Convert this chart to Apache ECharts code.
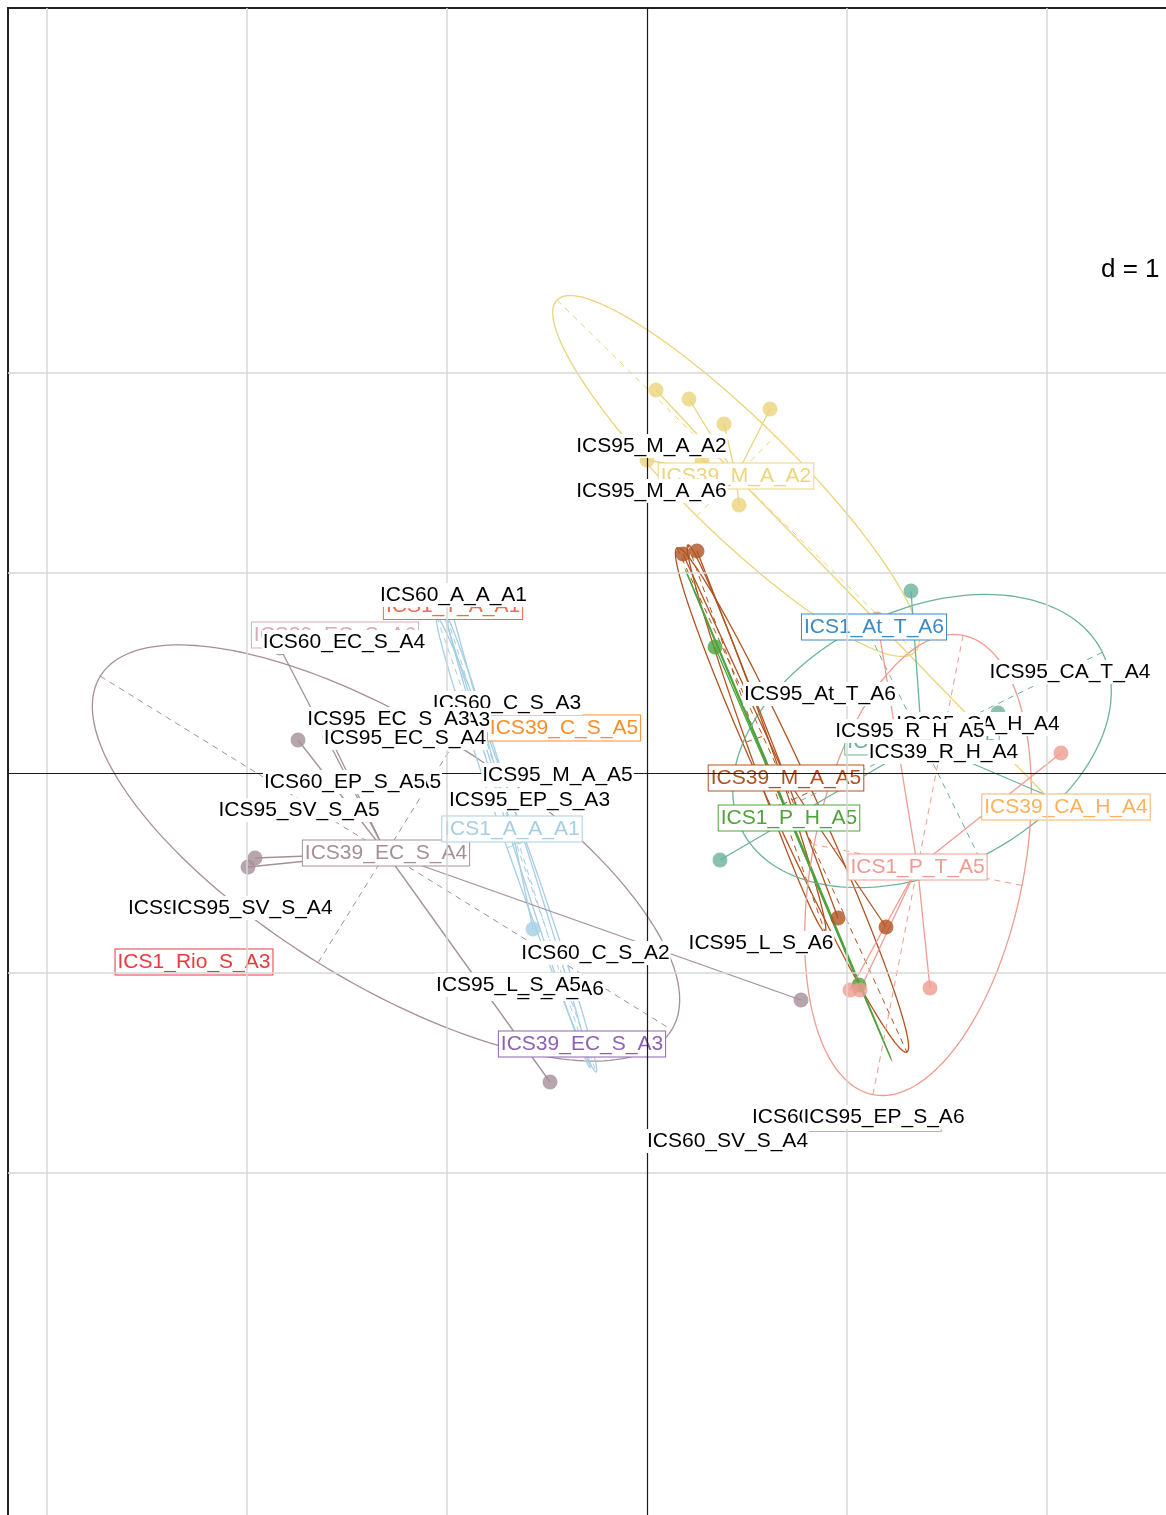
<!DOCTYPE html>
<html>
<head>
<meta charset="utf-8">
<script src="https://cdn.jsdelivr.net/npm/echarts@6/dist/echarts.min.js"></script>
<style>
  html, body { margin: 0; padding: 0; background: #ffffff; }
  #main { width: 1166px; height: 1515px; }
</style>
</head>
<body>
<div id="main"></div>
<script>
// ---------- reference grid (units of d = 1) ----------
const gridX = [-3, -2, -1, 1, 2];
const gridY = [-2, -1, 1, 2];

// ---------- classes: name and centroid (label sits on the centroid) ----------
const classNames = [
  'ICS39_M_A_A2', 'ICS39_M_A_A5', 'ICS1_P_H_A5', 'ICS39_R_H_A5', 'ICS1_P_T_A5',
  'ICS39_EC_S_A4', 'ICS1_A_A_A1', 'ICS1_At_T_A6', 'ICS39_C_S_A5', 'ICS39_CA_H_A4',
  'ICS1_Rio_S_A3', 'ICS39_EC_S_A3', 'ICS1_T_A_A1', 'ICS39_EC_S_A6', 'ICS1_EP_S_A6'
];
const centroidX = [0.445, 0.695, 0.71, 1.375, 1.3525, -1.305, -0.675, 1.135, -0.415, 2.095, -2.265, -0.325, -0.97, -1.56, 1.085];
const centroidY = [1.485, -0.025, -0.225, 0.155, -0.47, -0.4, -0.28, 0.73, 0.225, -0.17, -0.945, -1.355, 0.8325, 0.69, -1.7275];

// ---------- member scores of each class ----------
const membersM_A_A2 = [[0.045, 1.915], [0.21, 1.87], [0.385, 1.745], [0.615, 1.82], [0.46, 1.34], [0.0, 1.565], [0.275, 1.565], [2.025, -0.145]];
const membersM_A_A5 = [[0.18, 1.095], [0.25, 1.11], [0.955, -0.725], [1.195, -0.77]];
const membersP_H_A5 = [[0.34, 0.63], [1.06, -1.06]];
const membersR_H_A5 = [[1.32, 0.91], [0.365, -0.435], [1.755, 0.3], [2.065, -0.14]];
const membersP_T_A5 = [[1.065, -1.085], [1.015, -1.085], [1.415, -1.075], [2.07, 0.1], [1.15, 0.77]];
const membersEC_S_A4 = [[-1.745, 0.165], [-1.96, -0.425], [-1.995, -0.47], [-0.485, -1.545], [0.77, -1.135], [-1.835, 0.625], [-1.585, 0.18]];
const membersA_A_A1 = [[-0.57, -0.78], [-1.02, 0.805], [-0.975, 0.805]];

const memberSets = [
  ['ICS39_M_A_A2', membersM_A_A2],
  ['ICS39_M_A_A5', membersM_A_A5],
  ['ICS1_P_H_A5', membersP_H_A5],
  ['ICS39_R_H_A5', membersR_H_A5],
  ['ICS1_P_T_A5', membersP_T_A5],
  ['ICS39_EC_S_A4', membersEC_S_A4],
  ['ICS1_A_A_A1', membersA_A_A1]
];

// ---------- inertia ellipses (centre, semi-axes, orientation in degrees) ----------
const ellipseClass = ['ICS39_M_A_A2', 'ICS39_M_A_A5', 'ICS39_M_A_A5', 'ICS1_P_H_A5', 'ICS39_R_H_A5', 'ICS1_P_T_A5', 'ICS39_EC_S_A4', 'ICS1_A_A_A1', 'ICS1_A_A_A1'];
const ellipseCx = [0.445, 0.725, 0.5475, 0.7075, 1.375, 1.355, -1.305, -0.6525, -0.6425];
const ellipseCy = [1.485, -0.135, 0.1725, -0.21, 0.16, -0.46, -0.4, -0.3575, -0.3475];
const ellipseA = [1.255, 1.385, 1.027, 1.32, 1.005, 1.17, 1.68, 1.205, 1.18];
const ellipseB = [0.28, 0.11, 0.055, 0.003, 0.65, 0.53, 0.645, 0.05, 0.03];
const ellipseAngle = [-44.5, -65.5, -70.5, -67.2, 26.2, 78.9, -31.75, -70.7, -72.4];

// ---------- individual labels (drawn in order, later ones on top) ----------
const noteText = [
  'ICS95_M_A_A2', 'ICS95_M_A_A6', 'ICS60_A_A_A1', 'ICS60_EC_S_A4', 'ICS60_C_S_A3',
  'ICS60_EC_S_A3', 'ICS95_EC_S_A3', 'ICS95_EC_S_A4', 'ICS95_EP_S_A5', 'ICS60_EP_S_A5',
  'ICS95_M_A_A5', 'ICS95_SV_S_A5', 'ICS95_EP_S_A3', 'ICS95_SV_S_A6', 'ICS95_SV_S_A4',
  'ICS60_C_S_A2', 'ICS60_L_S_A6', 'ICS95_L_S_A5', 'ICS95_L_S_A6', 'ICS95_At_T_A6',
  'ICS95_CA_T_A4', 'ICS95_CA_H_A4', 'ICS95_R_H_A5', 'ICS39_R_H_A4', 'ICS60_EP_S_A6',
  'ICS95_EP_S_A6', 'ICS60_SV_S_A4'
];
const noteX = [
  0.0225, 0.0225, -0.9675, -1.515, -0.7,
  -1.19, -1.2925, -1.21, -1.4325, -1.5125,
  -0.4475, -1.74, -0.5875, -2.1925, -1.975,
  -0.2575, -0.5775, -0.6925, 0.57, 0.865,
  2.115, 1.655, 1.315, 1.4825, 0.9275,
  1.185, 0.4025
];
const noteY = [
  1.635, 1.41, 0.89, 0.655, 0.35,
  0.265, 0.27, 0.175, -0.045, -0.045,
  -0.01, -0.185, -0.135, -0.675, -0.675,
  -0.9, -1.08, -1.06, -0.85, 0.395,
  0.505, 0.245, 0.21, 0.105, -1.72,
  -1.72, -1.84
];

// ---------- styling ----------
const palette = {
  'ICS39_M_A_A2': '#EBD47A',
  'ICS39_M_A_A5': '#B0531F',
  'ICS1_P_H_A5': '#4FA23C',
  'ICS39_R_H_A5': '#6AB39A',
  'ICS1_P_T_A5': '#EE9B90',
  'ICS39_EC_S_A4': '#A58F98',
  'ICS1_A_A_A1': '#A6CEE3',
  'ICS1_At_T_A6': '#3B89C5',
  'ICS39_C_S_A5': '#F98E2B',
  'ICS39_CA_H_A4': '#FDB15E',
  'ICS1_Rio_S_A3': '#E8393F',
  'ICS39_EC_S_A3': '#8D62B3',
  'ICS1_T_A_A1': '#F4694A',
  'ICS39_EC_S_A6': '#D8AAB9',
  'ICS1_EP_S_A6': '#8CD070'
};
const FONT = '21px "Liberation Sans", Arial, sans-serif';

// ---------- derived series data ----------
const starRows = [];
const pointItems = [];
memberSets.forEach(([name, pts]) => {
  const k = classNames.indexOf(name);
  pts.forEach(p => {
    starRows.push([centroidX[k], centroidY[k], p[0], p[1], k]);
    pointItems.push({ value: p, itemStyle: { color: palette[name] } });
  });
});
const ellipseRows = ellipseCx.map((x, i) => [x, ellipseCy[i]]);
const labelRows = centroidX.map((x, i) => [x, centroidY[i]]);
const noteRows = noteX.map((x, i) => [x, noteY[i]]);

const refLines = [];
gridX.forEach(v => refLines.push({ xAxis: v, lineStyle: { color: '#d7d7d7', width: 1.5, type: 'solid' } }));
gridY.forEach(v => refLines.push({ yAxis: v, lineStyle: { color: '#d7d7d7', width: 1.5, type: 'solid' } }));
refLines.push({ xAxis: 0, lineStyle: { color: '#1a1a1a', width: 1.2, type: 'solid' } });
refLines.push({ yAxis: 0, lineStyle: { color: '#1a1a1a', width: 1.2, type: 'solid' } });

function renderEllipse(params, api) {
  const i = params.dataIndex;
  const cx = ellipseCx[i], cy = ellipseCy[i], a = ellipseA[i], b = ellipseB[i];
  const th = ellipseAngle[i] * Math.PI / 180, c = Math.cos(th), s = Math.sin(th);
  const at = (u, v) => api.coord([cx + u * c - v * s, cy + u * s + v * c]);
  const col = palette[ellipseClass[i]];
  const pts = [];
  for (let k = 0; k < 200; k++) {
    const t = 2 * Math.PI * k / 200;
    pts.push(at(a * Math.cos(t), b * Math.sin(t)));
  }
  const seg = (p, q) => ({ x1: p[0], y1: p[1], x2: q[0], y2: q[1] });
  const children = [
    { type: 'polygon', shape: { points: pts }, style: { fill: 'none', stroke: col, lineWidth: 1.3 } },
    { type: 'line', shape: seg(at(-a, 0), at(a, 0)), style: { stroke: col, lineWidth: 1, lineDash: [6, 5] } }
  ];
  if (b > 0.02) {
    children.push({ type: 'line', shape: seg(at(0, -b), at(0, b)), style: { stroke: col, lineWidth: 1, lineDash: [6, 5] } });
  }
  return { type: 'group', children };
}

function renderStar(params, api) {
  const p = api.coord([api.value(0), api.value(1)]);
  const q = api.coord([api.value(2), api.value(3)]);
  const col = palette[classNames[api.value(4)]];
  return { type: 'line', shape: { x1: p[0], y1: p[1], x2: q[0], y2: q[1] }, style: { stroke: col, lineWidth: 1.3 } };
}

function renderClassLabel(params, api) {
  const i = params.dataIndex;
  const p = api.coord([api.value(0), api.value(1)]);
  const col = palette[classNames[i]];
  return {
    type: 'text', x: p[0], y: p[1], z2: i,
    style: {
      text: classNames[i], fill: col, font: FONT, align: 'center', verticalAlign: 'middle',
      backgroundColor: '#ffffff', borderColor: col, borderWidth: 1, padding: [1, 2, 3, 2]
    }
  };
}

function renderNote(params, api) {
  const i = params.dataIndex;
  const p = api.coord([api.value(0), api.value(1)]);
  return {
    type: 'text', x: p[0], y: p[1], z2: i,
    style: {
      text: noteText[i], fill: '#000000', font: FONT, align: 'center', verticalAlign: 'middle',
      backgroundColor: '#ffffff', padding: [1, 1, 2, 1]
    }
  };
}

const chart = echarts.init(document.getElementById('main'), null, { renderer: 'canvas' });
chart.setOption({
  animation: false,
  backgroundColor: '#ffffff',
  grid: {
    left: 8, top: 8, width: 1188, height: 1537,
    outerBoundsMode: 'none', containLabel: false,
    show: true, borderColor: '#222222', borderWidth: 2, backgroundColor: 'transparent'
  },
  xAxis: {
    type: 'value', min: -3.195, max: 2.745,
    axisLine: { show: false }, axisTick: { show: false }, axisLabel: { show: false }, splitLine: { show: false }
  },
  yAxis: {
    type: 'value', min: -3.86, max: 3.825,
    axisLine: { show: false }, axisTick: { show: false }, axisLabel: { show: false }, splitLine: { show: false }
  },
  graphic: [{
    type: 'text', left: 1101, top: 257,
    style: { text: 'd = 1', font: '26px "Liberation Sans", Arial, sans-serif', fill: '#000000' }
  }],
  series: [
    {
      type: 'line', z: 1, data: [], silent: true,
      markLine: { silent: true, symbol: ['none', 'none'], label: { show: false }, animation: false, data: refLines }
    },
    { type: 'custom', z: 2, silent: true, renderItem: renderEllipse, data: ellipseRows, encode: { x: 0, y: 1 } },
    { type: 'custom', z: 2, silent: true, renderItem: renderStar, data: starRows, encode: { x: [0, 2], y: [1, 3] } },
    { type: 'scatter', z: 3, silent: true, symbol: 'circle', symbolSize: 15, data: pointItems },
    { type: 'custom', z: 4, silent: true, renderItem: renderClassLabel, data: labelRows, encode: { x: 0, y: 1 } },
    { type: 'custom', z: 5, silent: true, renderItem: renderNote, data: noteRows, encode: { x: 0, y: 1 } }
  ]
});
</script>
</body>
</html>
